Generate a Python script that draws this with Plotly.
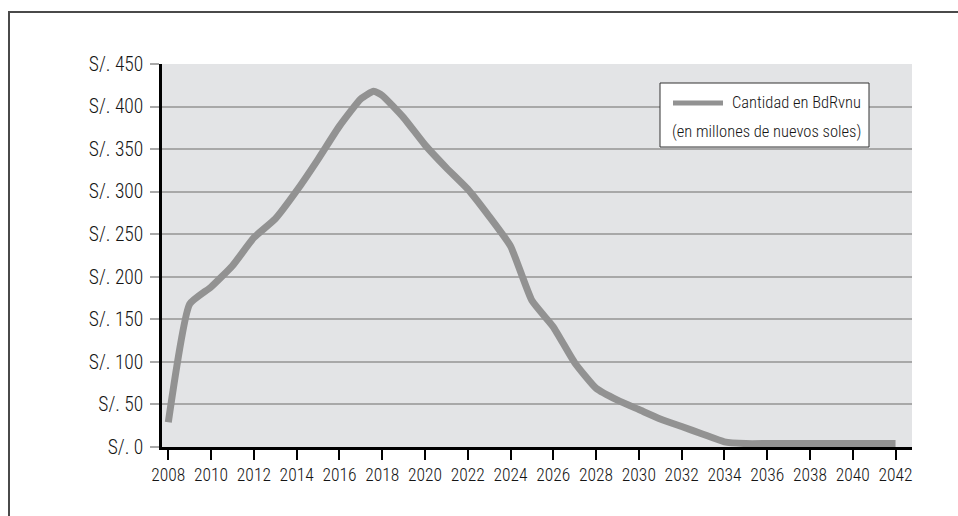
import plotly.graph_objects as go

# Amount held in BdRvnu, millions of nuevos soles, by year
years = [2008, 2009, 2010, 2011, 2012, 2013, 2014, 2015, 2016, 2017, 2017.6,
         2018, 2019, 2020, 2021, 2022, 2023, 2024, 2025, 2026, 2027, 2028,
         2029, 2030, 2031, 2032, 2033, 2034, 2035, 2036, 2037, 2038, 2039,
         2040, 2041, 2042]
amounts = [29, 168, 188, 213, 246, 268, 301, 338, 377, 409, 418,
           413, 387, 355, 328, 303, 271, 236, 172, 141, 99, 69,
           55, 44, 33, 24, 15, 6, 4, 4, 4, 4, 4,
           4, 4, 4]

y_ticks = [0, 50, 100, 150, 200, 250, 300, 350, 400, 450]
y_tick_text = ["S/. %d" % v for v in y_ticks]
x_ticks = list(range(2008, 2043, 2))

legend_line1 = "Cantidad en BdRvnu"
legend_line2 = "(en millones de nuevos soles)"

FONT = "Roboto Condensed, Liberation Sans Narrow, Arial Narrow, sans-serif"
TEXT_COLOR = "#151515"
LINE_COLOR = "#929292"
GRID_COLOR = "#a8a8a8"

W, H = 958, 516
ML, MR, MT, MB = 162, 46, 64, 69
PW, PH = W - ML - MR, H - MT - MB


def px_x(p):
    return (p - ML) / PW


def px_y(p):
    return (H - MB - p) / PH


fig = go.Figure()
fig.add_trace(go.Scatter(
    x=years, y=amounts, mode="lines", name=legend_line1,
    line=dict(color=LINE_COLOR, width=7, shape="spline", smoothing=0.45),
    showlegend=False, hoverinfo="x+y",
))

fig.update_layout(
    width=W, height=H,
    margin=dict(l=ML, r=MR, t=MT, b=MB, pad=0),
    paper_bgcolor="white",
    plot_bgcolor="#e3e4e6",
    font=dict(family=FONT, color=TEXT_COLOR, weight=300),
    showlegend=False,
    xaxis=dict(
        range=[2007.705, 2042.77],
        tickmode="array", tickvals=x_ticks, ticktext=[str(v) for v in x_ticks],
        ticks="outside", ticklen=10, tickwidth=1.5, tickcolor="#000",
        showline=True, linecolor="#000", linewidth=2.5,
        showgrid=False, zeroline=False,
        tickfont=dict(size=17.5, family=FONT, color=TEXT_COLOR, weight=300),
        automargin=False,
    ),
    yaxis=dict(
        range=[0, 450],
        tickmode="array", tickvals=y_ticks, ticktext=y_tick_text,
        ticks="outside", ticklen=9, tickwidth=1.5, tickcolor=GRID_COLOR,
        showline=True, linecolor="#000", linewidth=2.5,
        showgrid=True, gridcolor=GRID_COLOR, gridwidth=1.5,
        zeroline=False, ticklabelstandoff=3,
        tickfont=dict(size=19.5, family=FONT, color=TEXT_COLOR, weight=300),
        automargin=False,
    ),
)

shapes = [
    # frame around the whole chart
    dict(type="rect", xref="paper", yref="paper",
         x0=px_x(9), x1=px_x(972), y0=px_y(530), y1=px_y(12),
         line=dict(color="#4a4a4a", width=2), fillcolor="rgba(0,0,0,0)",
         layer="above"),
    # legend box
    dict(type="rect", xref="paper", yref="paper",
         x0=px_x(660), x1=px_x(869), y0=px_y(147), y1=px_y(83),
         line=dict(color="#333", width=1), fillcolor="white", layer="above"),
    # legend line sample
    dict(type="line", xref="paper", yref="paper",
         x0=px_x(673), x1=px_x(723), y0=px_y(103), y1=px_y(103),
         line=dict(color=LINE_COLOR, width=5), layer="above"),
]
fig.update_layout(shapes=shapes)

fig.add_annotation(
    xref="paper", yref="paper", x=px_x(863), y=px_y(103),
    xanchor="right", yanchor="middle", showarrow=False,
    text=legend_line1, font=dict(family=FONT, size=16.5, color=TEXT_COLOR, weight=300),
)
fig.add_annotation(
    xref="paper", yref="paper", x=px_x(863), y=px_y(131),
    xanchor="right", yanchor="middle", showarrow=False,
    text=legend_line2, font=dict(family=FONT, size=16.5, color=TEXT_COLOR, weight=300),
)

fig.write_html("out.html")
